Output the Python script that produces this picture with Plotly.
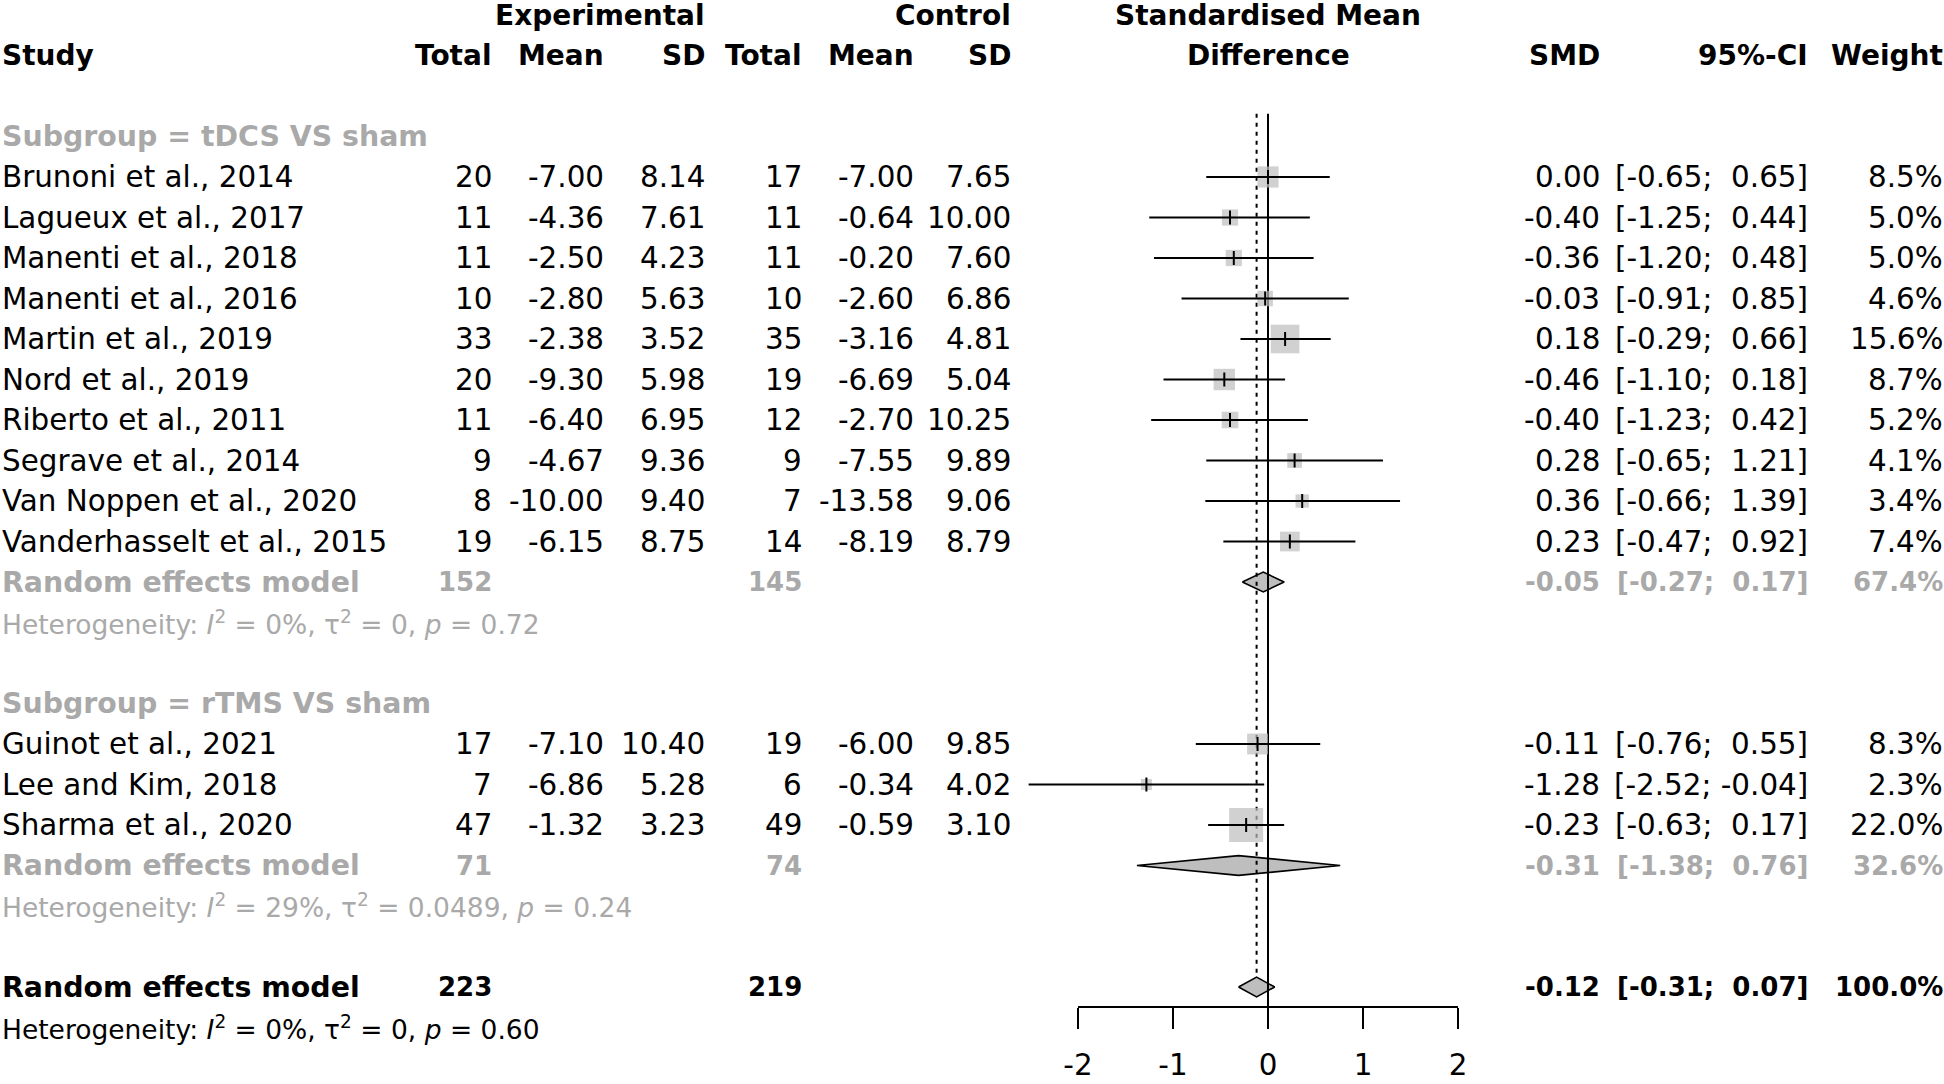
import numpy as np
import plotly.graph_objects as go

# ---------------- data ----------------
tdcs_names = ["Brunoni et al., 2014", "Lagueux et al., 2017", "Manenti et al., 2018",
              "Manenti et al., 2016", "Martin et al., 2019", "Nord et al., 2019",
              "Riberto et al., 2011", "Segrave et al., 2014", "Van Noppen et al., 2020",
              "Vanderhasselt et al., 2015"]
tdcs_exp_n = [20, 11, 11, 10, 33, 20, 11, 9, 8, 19]
tdcs_exp_mean = [-7.00, -4.36, -2.50, -2.80, -2.38, -9.30, -6.40, -4.67, -10.00, -6.15]
tdcs_exp_sd = [8.14, 7.61, 4.23, 5.63, 3.52, 5.98, 6.95, 9.36, 9.40, 8.75]
tdcs_ctl_n = [17, 11, 11, 10, 35, 19, 12, 9, 7, 14]
tdcs_ctl_mean = [-7.00, -0.64, -0.20, -2.60, -3.16, -6.69, -2.70, -7.55, -13.58, -8.19]
tdcs_ctl_sd = [7.65, 10.00, 7.60, 6.86, 4.81, 5.04, 10.25, 9.89, 9.06, 8.79]
tdcs_smd = [0.00, -0.40, -0.36, -0.03, 0.18, -0.46, -0.40, 0.28, 0.36, 0.23]
tdcs_lo = [-0.65, -1.25, -1.20, -0.91, -0.29, -1.10, -1.23, -0.65, -0.66, -0.47]
tdcs_hi = [0.65, 0.44, 0.48, 0.85, 0.66, 0.18, 0.42, 1.21, 1.39, 0.92]
tdcs_w = [8.5, 5.0, 5.0, 4.6, 15.6, 8.7, 5.2, 4.1, 3.4, 7.4]

rtms_names = ["Guinot et al., 2021", "Lee and Kim, 2018", "Sharma et al., 2020"]
rtms_exp_n = [17, 7, 47]
rtms_exp_mean = [-7.10, -6.86, -1.32]
rtms_exp_sd = [10.40, 5.28, 3.23]
rtms_ctl_n = [19, 6, 49]
rtms_ctl_mean = [-6.00, -0.34, -0.59]
rtms_ctl_sd = [9.85, 4.02, 3.10]
rtms_smd = [-0.11, -1.28, -0.23]
rtms_lo = [-0.76, -2.52, -0.63]
rtms_hi = [0.55, -0.04, 0.17]
rtms_w = [8.3, 2.3, 22.0]

group_labels = ["Subgroup = tDCS VS sham", "Subgroup = rTMS VS sham"]
group_exp_n = [152, 71]
group_ctl_n = [145, 74]
group_smd = [-0.05, -0.31]
group_lo = [-0.27, -1.38]
group_hi = [0.17, 0.76]
group_w = [67.4, 32.6]
group_i2 = ["0%", "29%"]
group_tau2 = ["0", "0.0489"]
group_p = ["0.72", "0.24"]

overall_exp_n = 223
overall_ctl_n = 219
overall_smd = -0.12
overall_lo = -0.31
overall_hi = 0.07
overall_w = 100.0
overall_i2 = "0%"
overall_tau2 = "0"
overall_p = "0.60"

axis_ticks = [-2, -1, 0, 1, 2]

# ---------------- layout constants ----------------
W, H = 1944, 1084
ROW0_PX, ROW_STEP = 15.0, 40.5          # pixel y of row 0 and row spacing
ZERO_PX, UNIT_PX = 1268.0, 95.0         # pixel x of SMD 0 and pixels per SMD unit
FONT = "DejaVu Sans, sans-serif"
FS = 29.4        # regular
FS_B = 28.4      # bold labels
FS_BH = 28.0     # bold headers
FS_BN = 26.0     # bold numbers
FS_HET = 26.5    # heterogeneity lines
GREY_TXT = "#A9A9A9"
SQ_COL = "#BEBEBE"

COL = dict(study=2, exp_n=492, exp_mean=604, exp_sd=705, ctl_n=802, ctl_mean=914,
           ctl_sd=1011, smd=1600, ci=1808, w=1943)

groups = [
    dict(names=tdcs_names, en=tdcs_exp_n, em=tdcs_exp_mean, es=tdcs_exp_sd,
         cn=tdcs_ctl_n, cm=tdcs_ctl_mean, cs=tdcs_ctl_sd,
         smd=tdcs_smd, lo=tdcs_lo, hi=tdcs_hi, w=tdcs_w),
    dict(names=rtms_names, en=rtms_exp_n, em=rtms_exp_mean, es=rtms_exp_sd,
         cn=rtms_ctl_n, cm=rtms_ctl_mean, cs=rtms_ctl_sd,
         smd=rtms_smd, lo=rtms_lo, hi=rtms_hi, w=rtms_w),
]

fig = go.Figure()
annotations = []


def txt(xpx, row, text, anchor="right", bold=False, color="black", size=None):
    if size is None:
        size = FS_B if bold else FS
    if bold:
        text = "<b>" + text + "</b>"
    annotations.append(dict(
        x=xpx / W, xref="paper", y=row, yref="y", text=text,
        showarrow=False, xanchor=anchor, yanchor="middle",
        borderpad=0, borderwidth=0,
        font=dict(family=FONT, size=size, color=color)))


def ci_str(lo, hi):
    lo_s = f"{lo:.2f}".rjust(5, "\u00a0")
    hi_s = f"{hi:.2f}".rjust(5, "\u00a0")
    return f"[{lo_s};\u00a0{hi_s}]"


def het_str(i2, tau2, p):
    return (f"Heterogeneity: <i>I</i><sup>2</sup> = {i2}, \u03c4<sup>2</sup> = {tau2}, "
            f"<i>p</i> = {p}")


# headers
txt(COL["exp_sd"], 0, "Experimental", bold=True, size=FS_BH)
txt(COL["ctl_sd"], 0, "Control", bold=True, size=FS_BH)
txt(ZERO_PX, 0, "Standardised Mean", anchor="center", bold=True, size=FS_BH)
txt(COL["study"], 1, "Study", anchor="left", bold=True, size=FS_BH)
for key, lab in [("exp_n", "Total"), ("exp_mean", "Mean"), ("exp_sd", "SD"),
                 ("ctl_n", "Total"), ("ctl_mean", "Mean"), ("ctl_sd", "SD"),
                 ("smd", "SMD"), ("ci", "95%-CI"), ("w", "Weight")]:
    txt(COL[key], 1, lab, bold=True, size=FS_BH)
txt(ZERO_PX, 1, "Difference", anchor="center", bold=True, size=FS_BH)

# rows
study_x, study_y, study_sz = [], [], []
ci_x, ci_y = [], []
diamonds = []
row = 3
for gi, g in enumerate(groups):
    txt(COL["study"], row, group_labels[gi], anchor="left", bold=True, color=GREY_TXT)
    for k, name in enumerate(g["names"]):
        r = row + 1 + k
        txt(COL["study"], r, name, anchor="left")
        txt(COL["exp_n"], r, str(g["en"][k]))
        txt(COL["exp_mean"], r, f"{g['em'][k]:.2f}")
        txt(COL["exp_sd"], r, f"{g['es'][k]:.2f}")
        txt(COL["ctl_n"], r, str(g["cn"][k]))
        txt(COL["ctl_mean"], r, f"{g['cm'][k]:.2f}")
        txt(COL["ctl_sd"], r, f"{g['cs'][k]:.2f}")
        txt(COL["smd"], r, f"{g['smd'][k]:.2f}")
        txt(COL["ci"], r, ci_str(g["lo"][k], g["hi"][k]))
        txt(COL["w"], r, f"{g['w'][k]:.1f}%")
        study_x.append(g["smd"][k]); study_y.append(r)
        study_sz.append(7.25 * np.sqrt(g["w"][k]))
        ci_x += [g["lo"][k], g["hi"][k], None]
        ci_y += [r, r, None]
    r = row + 1 + len(g["names"])
    txt(COL["study"], r, "Random effects model", anchor="left", bold=True, color=GREY_TXT)
    txt(COL["exp_n"], r, str(group_exp_n[gi]), bold=True, color=GREY_TXT, size=FS_BN)
    txt(COL["ctl_n"], r, str(group_ctl_n[gi]), bold=True, color=GREY_TXT, size=FS_BN)
    txt(COL["smd"], r, f"{group_smd[gi]:.2f}", bold=True, color=GREY_TXT, size=FS_BN)
    txt(COL["ci"], r, ci_str(group_lo[gi], group_hi[gi]), bold=True, color=GREY_TXT, size=FS_BN)
    txt(COL["w"], r, f"{group_w[gi]:.1f}%", bold=True, color=GREY_TXT, size=FS_BN)
    diamonds.append((group_lo[gi], group_smd[gi], group_hi[gi], r))
    txt(COL["study"], r + 1, het_str(group_i2[gi], group_tau2[gi], group_p[gi]),
        anchor="left", color=GREY_TXT, size=FS_HET)
    row = row + len(g["names"]) + 4

overall_row = row
txt(COL["study"], overall_row, "Random effects model", anchor="left", bold=True)
txt(COL["exp_n"], overall_row, str(overall_exp_n), bold=True, size=FS_BN)
txt(COL["ctl_n"], overall_row, str(overall_ctl_n), bold=True, size=FS_BN)
txt(COL["smd"], overall_row, f"{overall_smd:.2f}", bold=True, size=FS_BN)
txt(COL["ci"], overall_row, ci_str(overall_lo, overall_hi), bold=True, size=FS_BN)
txt(COL["w"], overall_row, f"{overall_w:.1f}%", bold=True, size=FS_BN)
txt(COL["study"], overall_row + 1, het_str(overall_i2, overall_tau2, overall_p),
    anchor="left", size=FS_HET)
diamonds.append((overall_lo, overall_smd, overall_hi, overall_row))

# geometry in row units
DH = 0.245                      # diamond half height
line_top = 2.44
axis_row = (1007 - ROW0_PX) / ROW_STEP

# diamonds
for (lo, est, hi, r) in diamonds:
    fig.add_trace(go.Scatter(
        x=[lo, est, hi, est, lo], y=[r, r - DH, r, r + DH, r],
        mode="lines", fill="toself", fillcolor=SQ_COL,
        line=dict(color="black", width=1.6), hoverinfo="skip", showlegend=False))

# reference lines
fig.add_trace(go.Scatter(x=[0, 0], y=[line_top, axis_row], mode="lines",
                         line=dict(color="black", width=2), hoverinfo="skip", showlegend=False))
fig.add_trace(go.Scatter(x=[overall_smd, overall_smd], y=[line_top, overall_row - DH],
                         mode="lines", line=dict(color="black", width=2, dash="4px,5px"),
                         hoverinfo="skip", showlegend=False))

# squares
fig.add_trace(go.Scatter(x=study_x, y=study_y, mode="markers",
                         marker=dict(symbol="square", size=study_sz, color=SQ_COL,
                                     line=dict(width=0)),
                         hoverinfo="skip", showlegend=False))
# CI lines
fig.add_trace(go.Scatter(x=ci_x, y=ci_y, mode="lines",
                         line=dict(color="black", width=2), hoverinfo="skip", showlegend=False))
# estimate ticks
fig.add_trace(go.Scatter(x=study_x, y=study_y, mode="markers",
                         marker=dict(symbol="line-ns-open", size=10, color="black",
                                     line=dict(color="black", width=2)),
                         hoverinfo="skip", showlegend=False))
# invisible trace attaching the visible SMD axis
fig.add_trace(go.Scatter(x=[axis_ticks[0], axis_ticks[-1]], y=[0, 0], xaxis="x2", yaxis="y",
                         mode="markers", marker=dict(opacity=0, size=1), hoverinfo="skip",
                         showlegend=False))

fig.update_layout(
    width=W, height=H, margin=dict(l=0, r=0, t=0, b=0, pad=0, autoexpand=False),
    paper_bgcolor="white", plot_bgcolor="rgba(0,0,0,0)",
    xaxis=dict(range=[(0 - ZERO_PX) / UNIT_PX, (W - ZERO_PX) / UNIT_PX], domain=[0, 1],
               visible=False, fixedrange=True),
    xaxis2=dict(range=[axis_ticks[0], axis_ticks[-1]],
                domain=[(ZERO_PX + axis_ticks[0] * UNIT_PX) / W,
                        (ZERO_PX + axis_ticks[-1] * UNIT_PX) / W],
                anchor="free", position=1 - 1007 / H, side="bottom",
                tickvals=axis_ticks, ticktext=[str(t) for t in axis_ticks],
                ticks="outside", ticklen=21, tickwidth=2, tickcolor="black",
                showline=True, linewidth=2, linecolor="black",
                showgrid=False, zeroline=False, ticklabelstandoff=11,
                fixedrange=True,
                tickfont=dict(family=FONT, size=FS, color="black")),
    yaxis=dict(range=[(H - ROW0_PX) / ROW_STEP, (0 - ROW0_PX) / ROW_STEP], domain=[0, 1],
               visible=False, fixedrange=True),
    annotations=annotations,
)

fig.write_html("out.html", config={"displayModeBar": False},
               post_script="document.body.style.margin='0px';")
